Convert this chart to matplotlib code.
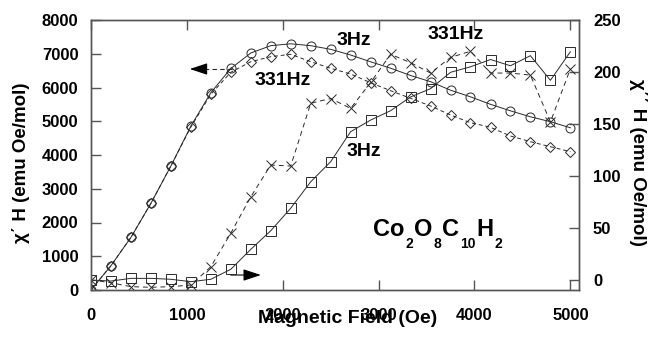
"""Chi' H and chi'' H versus magnetic field for Co2O8C10H2"""

import matplotlib
matplotlib.use("Agg")
import matplotlib.pyplot as plt
from matplotlib.transforms import IdentityTransform

plt.rcParams['font.family'] = ['Liberation Sans', 'DejaVu Sans']
plt.rcParams['font.weight'] = 'bold'

# field values (Oe)
field = [0, 208, 417, 625, 833, 1042, 1250, 1458, 1667, 1875, 2083, 2292, 2500,
         2708, 2917, 3125, 3333, 3542, 3750, 3958, 4167, 4375, 4583, 4792, 5000]

# chi' H, left axis (emu Oe/mol)
chi1_3hz = [0, 720, 1561, 2569, 3674, 4859, 5846, 6563, 7022, 7239, 7295, 7239, 7131,
            6963, 6761, 6572, 6356, 6172, 5920, 5724, 5502, 5309, 5132, 4987, 4806]
chi1_331hz = [0, 720, 1561, 2569, 3674, 4830, 5800, 6450, 6764, 6913, 6984, 6764, 6569,
              6400, 6142, 5905, 5680, 5452, 5185, 4957, 4821, 4563, 4394, 4246, 4098]

# chi'' H, right axis (emu Oe/mol)
chi2_331hz = [0, -2.6, -6.4, -7, -6.4, -4.8, 12.8, 45, 80, 110.6, 109.6, 170, 174.5,
              165, 190, 217, 209, 199, 214, 220, 199, 199, 197, 152, 203]
chi2_3hz = [0, -1, 1.6, 1.6, 0.7, -1.6, 0.7, 10.3, 29.5, 47.4, 69, 94.5, 113.8,
            142.6, 153.8, 162.8, 176, 184, 199.7, 205, 212, 206, 215.7, 192, 219.5]

left_ticks = [0, 1000, 2000, 3000, 4000, 5000, 6000, 7000, 8000]
right_ticks = [0, 50, 100, 150, 200, 250]
x_ticks = [0, 1000, 2000, 3000, 4000, 5000]

# formula pieces: (text, is_subscript)
formula = [('Co', False), ('2', True), ('O', False), ('8', True),
           ('C', False), ('10', True), ('H', False), ('2', True)]

ink = '#2a2a2a'
spine_col = '#555555'

fig = plt.figure(figsize=(6.51, 3.37), dpi=100)
ax = fig.add_axes([91 / 651, 1 - 290 / 337, 488 / 651, 270 / 337])
ax2 = ax.twinx()

mk = dict(markerfacecolor='none', markeredgecolor=ink, markeredgewidth=0.7, color=ink, lw=0.7)
ax.plot(field, chi1_3hz, marker='o', ms=6.5, ls='-', **mk)
ax.plot(field, chi1_331hz, marker='D', ms=5.5, ls=(0, (4, 3)), **mk)
ax2.plot(field, chi2_331hz, marker='x', ms=7.5, ls=(0, (5, 4)), **mk)
ax2.plot(field, chi2_3hz, marker='s', ms=7, ls='-', **mk)

ax.set_xlim(0, 5090)
ax.set_ylim(0, 8000)
ax2.set_ylim(-9.6, 250)

ax.set_xticks(x_ticks)
ax.set_yticks(left_ticks)
ax2.set_yticks(right_ticks)

ax.tick_params(axis='both', direction='in', length=7, width=1, color=spine_col,
               labelsize=12, top=True)
ax.tick_params(axis='y', pad=9)
ax.tick_params(axis='x', pad=13)
ax2.tick_params(axis='y', direction='in', length=7, width=1, color=spine_col,
                labelsize=12, pad=10)
for a in (ax, ax2):
    for s in a.spines.values():
        s.set_color(spine_col)
        s.set_linewidth(1)

ax.set_xlabel('Magnetic Field (Oe)', fontsize=14, fontweight='bold')
ax.xaxis.set_label_coords(0.526, -0.122)
ax.xaxis.label.set_va('baseline')
ax.set_ylabel('χ΄ H (emu Oe/mol)', fontsize=13.5, fontweight='bold')
ax.yaxis.set_label_coords(-0.143, 0.47)
ax.yaxis.label.set_va('center')
ax2.set_ylabel('χ΄΄ H (emu Oe/mol)', fontsize=13.5, fontweight='bold', rotation=270)
ax2.yaxis.set_label_coords(1.12, 0.474)
ax2.yaxis.label.set_va('center')

# frequency labels
tk = dict(fontsize=14, fontweight='bold', ha='center', va='center', color='black')
ax.text(2740, 7407, '3Hz', **tk)
ax.text(3802, 7556, '331Hz', **tk)
ax.text(2000, 6222, '331Hz', **tk)
ax.text(2844, 4089, '3Hz', **tk)

# arrows pointing to the axis each curve family uses
head = dict(arrowstyle='-|>,head_length=0.9,head_width=0.3', mutation_scale=12,
            color='black', lw=0.8, shrinkA=0, shrinkB=0)
ax.plot([1469, 1160], [6548, 6548], ls=(0, (4, 3)), lw=0.8, color=ink)
ax.annotate('', xy=(1031, 6548), xytext=(1200, 6548), arrowprops=head)
ax.annotate('', xy=(1771, 444), xytext=(1458, 444), arrowprops=head)

# chemical formula with large, low subscripts
renderer = fig.canvas.get_renderer()
cx, base = ax.transAxes.transform((0.578, 0.2))
for piece, sub in formula:
    if sub:
        t = fig.text(cx, base - 12, piece, fontsize=10, fontweight='bold',
                     va='baseline', ha='left', transform=IdentityTransform())
    else:
        t = fig.text(cx, base, piece, fontsize=17, fontweight='bold',
                     va='baseline', ha='left', transform=IdentityTransform())
    cx += t.get_window_extent(renderer).width + 1

fig.savefig('out.png', dpi=100)
